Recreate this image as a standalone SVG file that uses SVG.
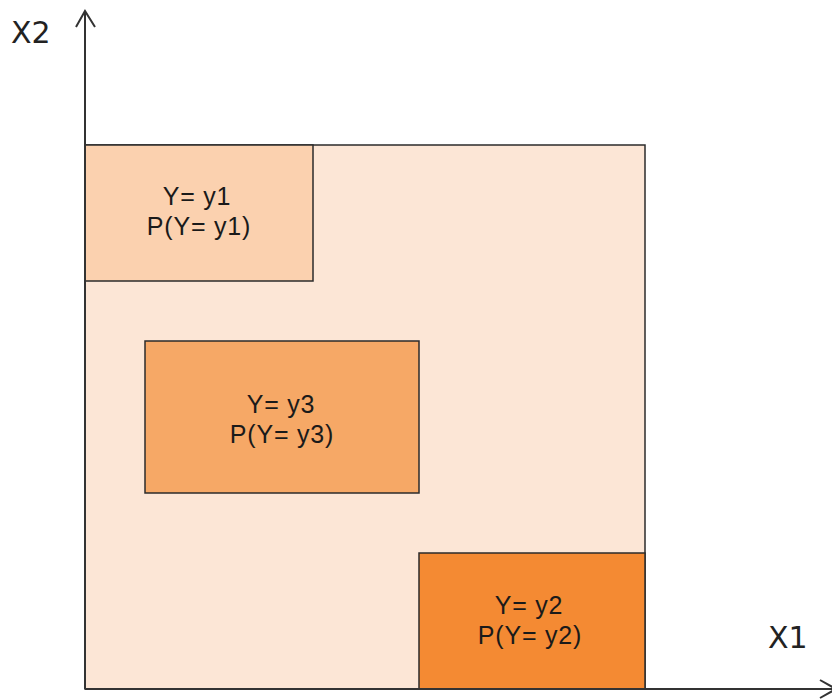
<svg xmlns="http://www.w3.org/2000/svg" width="832" height="700" viewBox="0 0 832 700">
  <style>
    .region { stroke: #2b2b2b; stroke-width: 1.5; }
    .axis { stroke: #333333; stroke-width: 2; fill: none; }
    .lbl { font-family: "Liberation Sans", Arial, sans-serif; font-size: 25px; letter-spacing: 0.8px; fill: #1a1a1a; text-anchor: middle; }
    .axlbl { font-family: "DejaVu Sans", "Liberation Sans", sans-serif; font-size: 30px; fill: #222222; }
  </style>
  <rect width="832" height="700" fill="#ffffff"/>

  <!-- whole feature space -->
  <g id="space">
    <rect class="region" x="85" y="145" width="560" height="544" fill="#FCE6D6"/>
  </g>

  <g id="region-y1">
    <rect class="region" x="85" y="145" width="228" height="136" fill="#FBD1AF"/>
    <text class="lbl" x="197" y="205">Y= y1</text>
    <text class="lbl" x="199" y="235">P(Y= y1)</text>
  </g>

  <g id="region-y3">
    <rect class="region" x="145" y="341" width="274" height="152" fill="#F6A866"/>
    <text class="lbl" x="281" y="413">Y= y3</text>
    <text class="lbl" x="282" y="443">P(Y= y3)</text>
  </g>

  <g id="region-y2">
    <rect class="region" x="419" y="553" width="226" height="136" fill="#F48A33"/>
    <text class="lbl" x="529" y="614">Y= y2</text>
    <text class="lbl" x="530" y="644">P(Y= y2)</text>
  </g>

  <!-- axes -->
  <g id="axes">
    <path class="axis" d="M85 689 V11"/>
    <path class="axis" d="M76 27 L85 11 L95 27"/>
    <path class="axis" d="M85 689 H836"/>
    <path class="axis" d="M820 680 L836 689 L820 698"/>
  </g>

  <text class="axlbl" x="11" y="43">X2</text>
  <text class="axlbl" x="768" y="648">X1</text>
</svg>
